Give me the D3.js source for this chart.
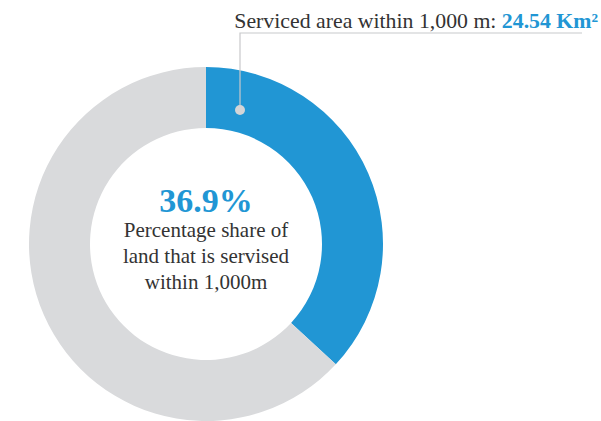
<!DOCTYPE html>
<html lang="en">
<head>
<meta charset="utf-8">
<title>Serviced area donut</title>
<script src="https://d3js.org/d3.v7.min.js"></script>
<style>
    body { margin: 0; background: #fff; }
</style>
</head>
<body>
<script>

// data
let categories = ["Serviced within 1,000m", "Not serviced"];
let shares = [36.9, 63.1];
let colors = ["#2196d4", "#d9dadc"];
let headline = "36.9%";
let captionLines = ["Percentage share of", "land that is servised", "within 1,000m"];
let titleLabel = "Serviced area within 1,000 m: ";
let titleValue = "24.54 Km²";

let serif = "'Liberation Serif', 'DejaVu Serif', serif";

let W = 601, H = 421;
let cx = 206, cy = 244;
let outerR = 177, innerR = 116;

let svg = d3.select("body")
    .append("svg")
    .attr("width", W)
    .attr("height", H)
    .attr("font-family", serif);

let g = svg.append("g")
    .attr("transform", "translate(" + cx + "," + cy + ")");

let pie = d3.pie().sort(null).value(d => d);
let arc = d3.arc().innerRadius(innerR).outerRadius(outerR);

let arcs = pie(shares);

g.selectAll("path.slice")
    .data(arcs)
    .enter()
    .append("path")
    .attr("class", "slice")
    .attr("d", arc)
    .attr("fill", (d, i) => colors[i]);

// leader line from the blue slice to the title
let dotX = 240 - cx, dotY = 110 - cy;
let lineY = 33 - cy;
g.append("path")
    .attr("d", "M" + dotX + "," + dotY + "V" + lineY + "H" + (582 - cx))
    .attr("fill", "none")
    .attr("stroke", "#c8c9cb")
    .attr("stroke-width", 1.2);

g.append("circle")
    .attr("cx", dotX)
    .attr("cy", dotY)
    .attr("r", 5)
    .attr("fill", "#d4d5d7");

// title, right aligned so it never runs off the page
let title = svg.append("text")
    .attr("x", 598)
    .attr("y", 28)
    .attr("text-anchor", "end")
    .attr("font-family", serif)
    .attr("font-size", 21.8)
    .attr("fill", "#333");
title.append("tspan").text(titleLabel);
title.append("tspan")
    .attr("fill", colors[0])
    .attr("font-weight", "bold")
    .text(titleValue);

// center text
g.append("text")
    .attr("x", 0)
    .attr("y", 212 - cy)
    .attr("text-anchor", "middle")
    .attr("fill", colors[0])
    .attr("font-family", serif)
    .attr("font-size", 34)
    .attr("font-weight", "bold")
    .text(headline);

g.selectAll("text.caption")
    .data(captionLines)
    .enter()
    .append("text")
    .attr("class", "caption")
    .attr("x", 0)
    .attr("y", (d, i) => 237 - cy + i * 26)
    .attr("text-anchor", "middle")
    .attr("fill", "#333")
    .attr("font-family", serif)
    .attr("font-size", 21)
    .text(d => d);

</script>
</body>
</html>
